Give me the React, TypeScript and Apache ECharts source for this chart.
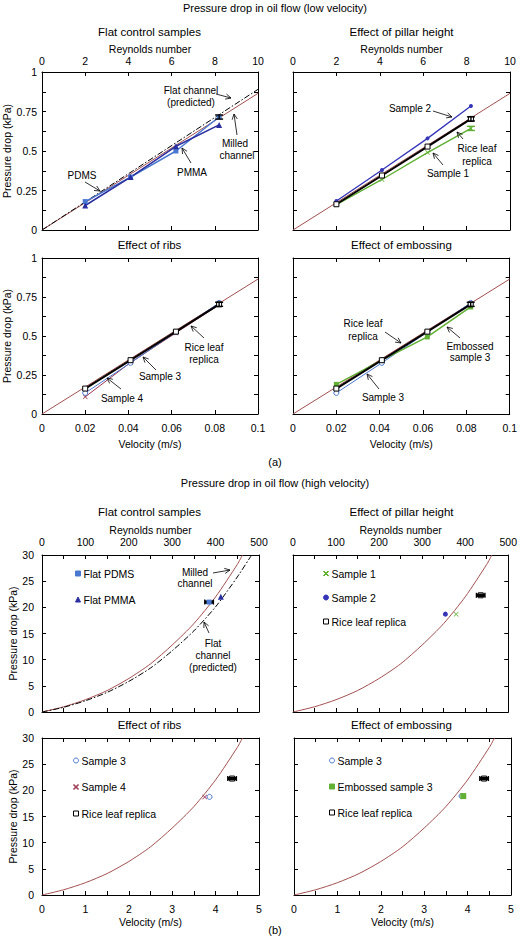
import React, { useEffect, useRef } from 'react';
import * as echarts from 'echarts';

const FONT = '"Liberation Sans", Arial, Helvetica, sans-serif';

// ---------- (a) low velocity data ----------
const velLow = [0.02, 0.041, 0.062, 0.082];
const lineX = [0, 0.1];
const milledLow = [0, 0.865];
const predictedLow = [0, 0.89];
const pdmsLow = [0.18, 0.335, 0.5, 0.715];
const pmmaLow = [0.155, 0.335, 0.53, 0.665];
const sample1Low = [0.16, 0.32, 0.49, 0.643];
const sample2Low = [0.184, 0.38, 0.58, 0.785];
const riceLow = [0.163, 0.345, 0.528, 0.703];
const sample3Low = [0.135, 0.328, 0.525, 0.712];
const sample4Low = [0.11, 0.33, 0.52, 0.7];
const embossedLow = [0.19, 0.345, 0.494, 0.686];
const errLow = 0.013;

// ---------- (b) high velocity data ----------
const curveV = [0, 0.5, 1, 1.5, 2, 2.5, 3, 3.5, 4, 4.5, 4.62];
const milledHigh = [0, 1.0, 2.35, 4.1, 6.4, 9.2, 12.8, 16.9, 22.0, 28.2, 30];
const predV = [0, 0.5, 1, 1.5, 2, 2.5, 3, 3.5, 4, 4.5, 4.83];
const predictedHigh = [0, 0.9, 2.15, 3.75, 5.85, 8.4, 11.7, 15.5, 20.1, 25.8, 30];
const pdmsHigh = [3.85, 21.0];
const pmmaHigh = [4.12, 22.0];
const s1High = [3.79, 18.7];
const s2High = [3.54, 18.7];
const riceHighB2 = [4.36, 22.3];
const s3HighB3 = [3.86, 18.75];
const s4High = [3.75, 18.75];
const riceHigh = [4.38, 22.25];
const s3HighB4 = [3.86, 18.9];
const embossedHigh = [3.9, 18.9];
const errHigh = 0.1;

const C = {
  milled: '#a24f4f',
  pdms: '#4a78d0',
  pmma: '#2a2fa0',
  s1: '#5cae2e',
  s2: '#3535b8',
  rice: '#000000',
  s3: '#4a78d0',
  s4: '#9b3550',
  emb: '#62b034',
};

const XSYM = 'path://M0,1 L1,0 L5,4 L9,0 L10,1 L6,5 L10,9 L9,10 L5,6 L1,10 L0,9 L4,5 Z';

const GRIDS = [
  { left: 41, top: 72, width: 217, height: 158 },
  { left: 293, top: 72, width: 217, height: 158 },
  { left: 41, top: 258, width: 217, height: 156 },
  { left: 293, top: 258, width: 217, height: 156 },
  { left: 42, top: 555, width: 217, height: 157 },
  { left: 293, top: 555, width: 218, height: 157 },
  { left: 42, top: 738, width: 217, height: 157 },
  { left: 294, top: 738, width: 217, height: 157 },
];

const zip = (xs: number[], ys: number[]) => xs.map((x, i) => [x, ys[i]]);
const fmt = (v: number) => String(Math.round(v * 1000) / 1000);

function axisCommon(show: boolean, minor: boolean) {
  return {
    axisLine: { show: true, onZero: false, lineStyle: { color: '#000', width: 1 } },
    axisTick: { show: true, inside: true, length: 4, lineStyle: { color: '#000', width: 1 } },
    minorTick: { show: minor, splitNumber: 2, length: 4, lineStyle: { color: '#000', width: 1 } },
    splitLine: { show: false },
    minorSplitLine: { show: false },
    axisLabel: { show, color: '#000', fontFamily: FONT, fontSize: 10.5, formatter: fmt },
    nameTextStyle: { color: '#000', fontFamily: FONT, fontSize: 10.5 },
  };
}

const xAxes: any[] = [];
const yAxes: any[] = [];
GRIDS.forEach((_, g) => {
  const isLow = g < 4;
  const isTop = g % 4 < 2;
  const isLeft = g % 2 === 0;
  xAxes.push({
    gridIndex: g, type: 'value', position: 'bottom', min: 0, max: isLow ? 0.1 : 5, interval: isLow ? 0.02 : 1,
    ...axisCommon(!isTop, !isLow),
    axisLabel: { ...axisCommon(!isTop, !isLow).axisLabel, margin: 8 },
    name: isTop ? '' : 'Velocity (m/s)', nameLocation: 'middle', nameGap: isLow ? 24 : 21,
  });
  xAxes.push({
    gridIndex: g, type: 'value', position: 'top', min: 0, max: isLow ? 10 : 500, interval: isLow ? 2 : 100,
    ...axisCommon(isTop, !isLow),
    axisLabel: { ...axisCommon(isTop, !isLow).axisLabel, margin: isLow ? 6 : 8 },
    name: isTop ? 'Reynolds number' : '', nameLocation: 'middle', nameGap: isLow ? 17 : 20,
  });
  yAxes.push({
    gridIndex: g, type: 'value', position: 'left', min: 0, max: isLow ? 1 : 30, interval: isLow ? 0.25 : 5,
    ...axisCommon(isLeft, isLow),
    axisLabel: { ...axisCommon(isLeft, isLow).axisLabel, margin: isLow ? 5 : 8 },
    name: isLeft ? 'Pressure drop (kPa)' : '', nameLocation: 'middle', nameGap: isLow ? 30 : 22,
  });
  yAxes.push({
    gridIndex: g, type: 'value', position: 'right', min: 0, max: isLow ? 1 : 30, interval: isLow ? 0.25 : 5,
    ...axisCommon(false, isLow),
  });
});

function line(name: string, g: number, xs: number[], ys: number[], color: string, symbol: string, size: number, opt: any = {}) {
  return {
    type: 'line', name, xAxisIndex: 2 * g, yAxisIndex: 2 * g,
    data: zip(xs, ys),
    symbol, symbolSize: size, showSymbol: symbol !== 'none',
    smooth: opt.smooth ?? false,
    lineStyle: { color, width: opt.width ?? 1.3, type: opt.type ?? 'solid' },
    itemStyle: { color: opt.fill ?? color, borderColor: color, borderWidth: opt.bw ?? 0 },
    z: opt.z ?? 3, silent: true,
  };
}

function scatter(name: string, g: number, pt: number[], color: string, symbol: string, size: number, opt: any = {}) {
  return {
    type: 'scatter', name, xAxisIndex: 2 * g, yAxisIndex: 2 * g,
    data: [pt], symbol, symbolSize: size,
    itemStyle: { color: opt.fill ?? color, borderColor: color, borderWidth: opt.bw ?? 0, opacity: 1 },
    z: opt.z ?? 4, silent: true,
  };
}

function errBar(name: string, g: number, pts: number[][], color: string, horizontal: boolean, lw = 1.4) {
  return {
    type: 'custom', name, xAxisIndex: 2 * g, yAxisIndex: 2 * g, data: pts, z: 6, silent: true,
    renderItem: (_p: any, api: any) => {
      const x = api.value(0), y = api.value(1), e = api.value(2);
      const a = horizontal ? api.coord([x - e, y]) : api.coord([x, y + e]);
      const b = horizontal ? api.coord([x + e, y]) : api.coord([x, y - e]);
      const w = horizontal ? 2.5 : 4;
      const st = { stroke: color, lineWidth: lw };
      const caps = horizontal
        ? [
            { type: 'line', shape: { x1: a[0], y1: a[1] - w, x2: a[0], y2: a[1] + w }, style: st },
            { type: 'line', shape: { x1: b[0], y1: b[1] - w, x2: b[0], y2: b[1] + w }, style: st },
          ]
        : [
            { type: 'line', shape: { x1: a[0] - w, y1: a[1], x2: a[0] + w, y2: a[1] }, style: st },
            { type: 'line', shape: { x1: b[0] - w, y1: b[1], x2: b[0] + w, y2: b[1] }, style: st },
          ];
      return {
        type: 'group',
        children: [{ type: 'line', shape: { x1: a[0], y1: a[1], x2: b[0], y2: b[1] }, style: { stroke: color, lineWidth: horizontal ? 3.5 : lw } }, ...caps],
      };
    },
  };
}

const DASHDOT = [6, 2, 1.5, 2];
const openSq = { fill: '#fff', bw: 1 };
const CURVE = { width: 1, z: 2, smooth: 0.25 };

const series: any[] = [
  // (a) flat control
  line('milled a0', 0, lineX, milledLow, C.milled, 'none', 0, { width: 1, z: 2 }),
  line('pred a0', 0, lineX, predictedLow, '#000', 'none', 0, { width: 1, type: DASHDOT, z: 2 }),
  line('PDMS a', 0, velLow, pdmsLow, C.pdms, 'rect', 5, { width: 1.5 }),
  line('PMMA a', 0, velLow, pmmaLow, C.pmma, 'triangle', 6, { width: 1.5 }),
  errBar('err a0', 0, [[velLow[3], pdmsLow[3], errLow]], '#000', false),
  // (a) pillar height
  line('milled a1', 1, lineX, milledLow, C.milled, 'none', 0, { width: 1, z: 2 }),
  line('S2 a', 1, velLow, sample2Low, C.s2, 'circle', 4, { width: 1.3 }),
  line('S1 a', 1, velLow, sample1Low, C.s1, XSYM, 5, { width: 1.3 }),
  line('Rice a1', 1, velLow, riceLow, '#000', 'rect', 5, { ...openSq, width: 2, z: 4 }),
  errBar('err a1r', 1, [[velLow[3], riceLow[3], errLow]], '#000', false),
  errBar('err a1s', 1, [[velLow[3], sample1Low[3], errLow]], C.s1, false),
  // (a) ribs
  line('milled a2', 2, lineX, milledLow, C.milled, 'none', 0, { width: 1, z: 2 }),
  line('S4 a', 2, velLow, sample4Low, C.s4, XSYM, 5, { width: 1 }),
  line('S3 a2', 2, velLow, sample3Low, C.s3, 'circle', 5, { fill: '#fff', bw: 1, width: 1 }),
  line('Rice a2', 2, velLow, riceLow, '#000', 'rect', 5, { ...openSq, width: 2, z: 4 }),
  errBar('err a2', 2, [[velLow[3], riceLow[3], errLow]], '#000', false),
  // (a) embossing
  line('milled a3', 3, lineX, milledLow, C.milled, 'none', 0, { width: 1, z: 2 }),
  line('S3 a3', 3, velLow, sample3Low, C.s3, 'circle', 5, { fill: '#fff', bw: 1, width: 1 }),
  line('Emb a', 3, velLow, embossedLow, C.emb, 'rect', 5, { width: 1.5 }),
  line('Rice a3', 3, velLow, riceLow, '#000', 'rect', 5, { ...openSq, width: 2, z: 4 }),
  errBar('err a3', 3, [[velLow[3], riceLow[3], errLow]], '#000', false),
  // (b) flat control
  line('milled b0', 4, curveV, milledHigh, C.milled, 'none', 0, CURVE),
  line('pred b0', 4, predV, predictedHigh, '#000', 'none', 0, { ...CURVE, type: DASHDOT }),
  errBar('err b0', 4, [[pdmsHigh[0], pdmsHigh[1], errHigh]], '#000', true, 1.3),
  scatter('Flat PDMS', 4, pdmsHigh, C.pdms, 'rect', 5, { z: 7 }),
  scatter('Flat PMMA', 4, pmmaHigh, C.pmma, 'triangle', 6),
  // (b) pillar height
  line('milled b1', 5, curveV, milledHigh, C.milled, 'none', 0, CURVE),
  scatter('Sample 1', 5, s1High, C.s1, XSYM, 5),
  scatter('Sample 2', 5, s2High, C.s2, 'circle', 5),
  scatter('Rice leaf replica', 5, riceHighB2, '#000', 'rect', 5, openSq),
  errBar('err b1', 5, [[riceHighB2[0], riceHighB2[1], errHigh]], '#000', true, 1.3),
  // (b) ribs
  line('milled b2', 6, curveV, milledHigh, C.milled, 'none', 0, CURVE),
  scatter('Sample 3', 6, s3HighB3, C.s3, 'circle', 5, { fill: '#fff', bw: 1 }),
  scatter('Sample 4', 6, s4High, C.s4, XSYM, 5),
  scatter('Rice leaf replica', 6, riceHigh, '#000', 'rect', 5, openSq),
  errBar('err b2', 6, [[riceHigh[0], riceHigh[1], errHigh]], '#000', true, 1.3),
  // (b) embossing
  line('milled b3', 7, curveV, milledHigh, C.milled, 'none', 0, CURVE),
  scatter('Sample 3', 7, s3HighB4, C.s3, 'circle', 5, { fill: '#fff', bw: 1 }),
  scatter('Embossed sample 3', 7, embossedHigh, C.emb, 'rect', 6),
  scatter('Rice leaf replica', 7, riceHigh, '#000', 'rect', 5, openSq),
  errBar('err b3', 7, [[riceHigh[0], riceHigh[1], errHigh]], '#000', true, 1.3),
];

function legend(data: string[], left: number, top: number, gap: number) {
  return {
    data, left, top, orient: 'vertical', itemGap: gap, itemWidth: 5, itemHeight: 5,
    selectedMode: false,
    itemStyle: { borderWidth: 1 },
    textStyle: { color: '#000', fontFamily: FONT, fontSize: 10.5, padding: [0, 0, 0, -2] },
  };
}

const legends = [
  legend(['Flat PDMS', 'Flat PMMA'], 70, 563, 15),
  legend(['Sample 1', 'Sample 2', 'Rice leaf replica'], 318, 563, 13),
  legend(['Sample 3', 'Sample 4', 'Rice leaf replica'], 68, 750, 15.5),
  legend(['Sample 3', 'Embossed sample 3', 'Rice leaf replica'], 324, 750, 15),
];

function txt(x: number, y: number, text: string, size = 10) {
  return {
    type: 'text', x, y, silent: true, z: 100,
    style: { text, fill: '#000', font: `${size}px ${FONT}`, align: 'center', verticalAlign: 'middle' },
  };
}

function arrow(x1: number, y1: number, x2: number, y2: number) {
  const ang = Math.atan2(y2 - y1, x2 - x1);
  const L = 6, a = 0.45;
  const p1 = [x2 - L * Math.cos(ang - a), y2 - L * Math.sin(ang - a)];
  const p2 = [x2 - L * Math.cos(ang + a), y2 - L * Math.sin(ang + a)];
  return [
    { type: 'line', silent: true, z: 100, shape: { x1, y1, x2, y2 }, style: { stroke: '#000', lineWidth: 0.8 } },
    { type: 'polyline', silent: true, z: 100, shape: { points: [p1, [x2, y2], p2] }, style: { stroke: '#000', fill: null, lineWidth: 0.8 } },
  ];
}

const graphics: any[] = [
  txt(275, 8, 'Pressure drop in oil flow (low velocity)', 11),
  txt(149.5, 32, 'Flat control samples', 11.5),
  txt(401.5, 32, 'Effect of pillar height', 11.5),
  txt(149.5, 245, 'Effect of ribs', 11.5),
  txt(401.5, 245, 'Effect of embossing', 11.5),
  txt(275, 462, '(a)', 11),
  txt(275, 483, 'Pressure drop in oil flow (high velocity)', 11),
  txt(149.5, 512, 'Flat control samples', 11.5),
  txt(401.5, 512, 'Effect of pillar height', 11.5),
  txt(149.5, 725, 'Effect of ribs', 11.5),
  txt(401.5, 725, 'Effect of embossing', 11.5),
  txt(275, 930, '(b)', 11),
  // annotations (a) flat control
  txt(191, 90, 'Flat channel'), txt(191, 102, '(predicted)'), ...arrow(216, 94, 231, 98),
  txt(235, 143, 'Milled'), txt(237, 155, 'channel'), ...arrow(237, 135, 234, 114),
  txt(192, 172, 'PMMA'), ...arrow(191, 163, 182, 148),
  txt(82, 175, 'PDMS'), ...arrow(85, 182, 100, 191),
  // (a) pillar height
  txt(410, 108, 'Sample 2'), ...arrow(433, 111, 452, 117),
  txt(477, 148, 'Rice leaf'), txt(477, 161, 'replica'), ...arrow(463, 139, 457, 132),
  txt(448, 173, 'Sample 1'), ...arrow(443, 165, 433, 153),
  // (a) ribs
  txt(204, 347, 'Rice leaf'), txt(204, 359, 'replica'), ...arrow(204, 338, 191, 326),
  txt(160, 376, 'Sample 3'), ...arrow(156, 370, 143, 357),
  txt(122, 398, 'Sample 4'), ...arrow(121, 389, 107, 378),
  // (a) embossing
  txt(363, 323, 'Rice leaf'), txt(363, 336, 'replica'), ...arrow(385, 332, 401, 343),
  txt(470, 346, 'Embossed'), txt(470, 357, 'sample 3'), ...arrow(460, 338, 447, 327),
  txt(383, 397, 'Sample 3'), ...arrow(379, 389, 367, 374),
  // (b) flat control
  txt(195, 572, 'Milled'), txt(195, 583, 'channel'), ...arrow(213, 573, 230, 570),
  txt(213, 643, 'Flat'), txt(213, 655, 'channel'), txt(213, 667, '(predicted)'), ...arrow(209, 633, 204, 622),
];

const option: any = {
  animation: false,
  backgroundColor: '#fff',
  textStyle: { fontFamily: FONT },
  grid: GRIDS.map((g) => ({ ...g, containLabel: false, show: false })),
  xAxis: xAxes,
  yAxis: yAxes,
  legend: legends,
  series,
  graphic: graphics,
};

export default function App() {
  const ref = useRef<HTMLDivElement>(null);
  useEffect(() => {
    const chart = echarts.init(ref.current!, null, { renderer: 'svg' });
    chart.setOption(option);
    return () => chart.dispose();
  }, []);
  return (
    <div
      ref={ref}
      style={{ position: 'absolute', left: 0, top: 0, width: 520, height: 938, background: '#fff' }}
    />
  );
}
